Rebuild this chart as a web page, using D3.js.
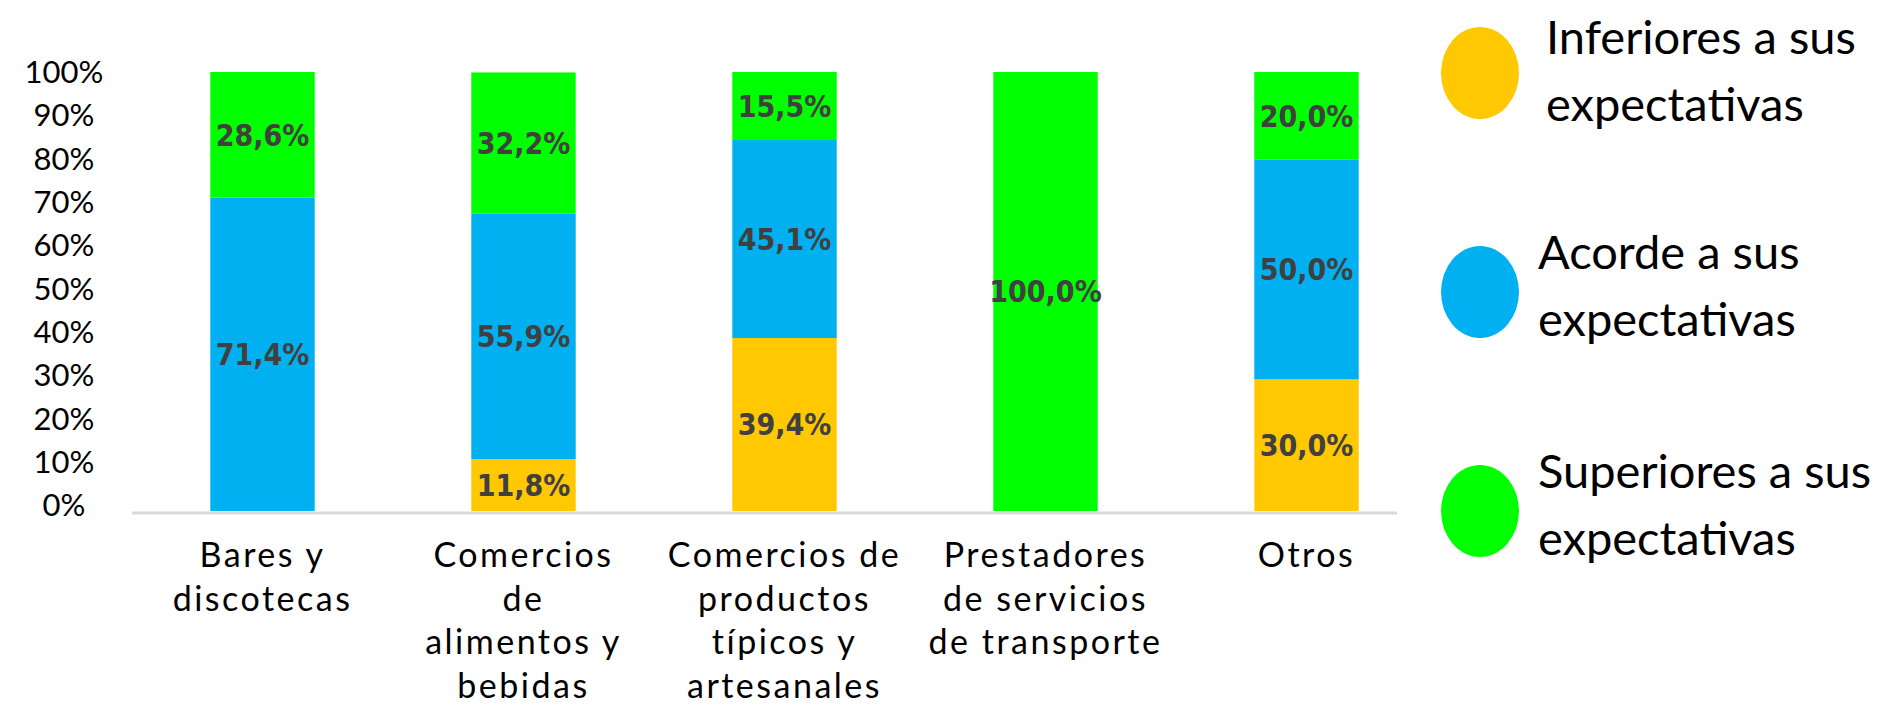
<!DOCTYPE html>
<html>
<head>
<meta charset="utf-8">
<script src="https://cdn.jsdelivr.net/npm/d3@7"></script>
<style>
    html, body { margin: 0; padding: 0; background: #fff; }
    svg { display: block; }
    .tick-label { font-family: Lato, "Open Sans", sans-serif; font-size: 31px; fill: #000; }
    .cat-label { font-family: Lato, "Open Sans", sans-serif; font-size: 34px; letter-spacing: 2.5px; fill: #000; }
    .legend-label { font-family: Lato, "Open Sans", sans-serif; font-size: 47px; fill: #000; }
    .value-label { font-family: "DejaVu Sans Condensed", "DejaVu Sans", sans-serif; font-stretch: condensed; font-weight: bold; font-size: 30px; fill: #404040; }
</style>
</head>
<body>
<div id="chart"></div>
<script>
// categories (one entry per line of the label)
const categories = [
    ["Bares y", "discotecas"],
    ["Comercios", "de", "alimentos y", "bebidas"],
    ["Comercios de", "productos", "típicos y", "artesanales"],
    ["Prestadores", "de servicios", "de transporte"],
    ["Otros"]
];

// series values, in %
const inferiores = [0, 11.8, 39.4, 0, 30.0];
const acorde     = [71.4, 55.9, 45.1, 0, 50.0];
const superiores = [28.6, 32.2, 15.5, 100.0, 20.0];

const seriesKeys   = ["inferiores", "acorde", "superiores"];
const seriesLabels = [
    ["Inferiores a sus", "expectativas"],
    ["Acorde a sus", "expectativas"],
    ["Superiores a sus", "expectativas"]
];
const seriesColors = ["#FFC800", "#00B0F0", "#00FF00"];

const yTicks = [0, 10, 20, 30, 40, 50, 60, 70, 80, 90, 100];

// --- layout ---
const W = 1883, H = 706;

const svg = d3.select("#chart").append("svg")
    .attr("width", W)
    .attr("height", H);

const rows = categories.map((c, i) => ({
    cat: i,
    inferiores: inferiores[i],
    acorde: acorde[i],
    superiores: superiores[i]
}));

const x = d3.scaleBand()
    .domain(d3.range(categories.length))
    .range([132, 1437])
    .paddingInner(0.6)
    .paddingOuter(0.3);

const y = d3.scaleLinear().domain([0, 100]).range([511, 72]);
// tick labels sit a bit tighter than the bars in the original
const yLab = d3.scaleLinear().domain([0, 100]).range([505, 72]);

const color = d3.scaleOrdinal().domain(seriesKeys).range(seriesColors);

// --- 1. Stacked bars ---
const stacked = d3.stack().keys(seriesKeys)(rows);

const layers = svg.append("g")
    .selectAll("g")
    .data(stacked)
    .join("g")
    .attr("fill", d => color(d.key));

layers.selectAll("rect")
    .data(d => d)
    .join("rect")
    .attr("x", d => x(d.data.cat))
    .attr("width", x.bandwidth())
    .attr("y", d => y(d[1]))
    .attr("height", d => y(d[0]) - y(d[1]));

// value labels
const fmt = v => v.toFixed(1).replace(".", ",") + "%";

stacked.forEach(layer => {
    svg.append("g")
        .selectAll("text")
        .data(layer.filter(d => d[1] - d[0] > 0))
        .join("text")
        .attr("class", "value-label")
        .attr("text-anchor", "middle")
        .attr("x", d => x(d.data.cat) + x.bandwidth() / 2)
        .attr("y", d => (y(d[0]) + y(d[1])) / 2)
        .attr("dy", "0.36em")
        .text(d => fmt(d[1] - d[0]));
});

// --- 2. Axes ---
svg.append("line")
    .attr("x1", 132)
    .attr("x2", 1397)
    .attr("y1", y(0) + 2)
    .attr("y2", y(0) + 2)
    .attr("stroke", "#D9D9D9")
    .attr("stroke-width", 3);

svg.append("g")
    .selectAll("text")
    .data(yTicks)
    .join("text")
    .attr("class", "tick-label")
    .attr("text-anchor", "middle")
    .attr("x", 64)
    .attr("y", d => yLab(d))
    .attr("dy", "0.36em")
    .text(d => d + "%");

const catLabels = svg.append("g")
    .selectAll("text")
    .data(categories)
    .join("text")
    .attr("class", "cat-label")
    .attr("text-anchor", "middle")
    .attr("x", (d, i) => x(i) + x.bandwidth() / 2)
    .attr("y", 567);

catLabels.selectAll("tspan")
    .data(d => d)
    .join("tspan")
    .attr("x", function () { return this.parentNode.getAttribute("x"); })
    .attr("dy", (d, i) => i === 0 ? 0 : 43.5)
    .text(d => d);

// --- 3. Legend ---
const ly = d3.scalePoint().domain(seriesKeys).range([73, 511]);

const legend = svg.append("g")
    .selectAll("g")
    .data(seriesKeys)
    .join("g")
    .attr("transform", k => `translate(0,${ly(k)})`);

legend.append("ellipse")
    .attr("cx", 1480)
    .attr("rx", 39)
    .attr("ry", 46)
    .attr("fill", k => color(k));

// first entry sits slightly lower and further right in the original
legend.append("text")
    .attr("class", "legend-label")
    .attr("transform", (k, i) => i === 0 ? "translate(8,4)" : null)
    .selectAll("tspan")
    .data((k, i) => seriesLabels[i])
    .join("tspan")
    .attr("x", 1538)
    .attr("y", (d, i) => i === 0 ? -23 : 44)
    .text(d => d);
</script>
</body>
</html>
